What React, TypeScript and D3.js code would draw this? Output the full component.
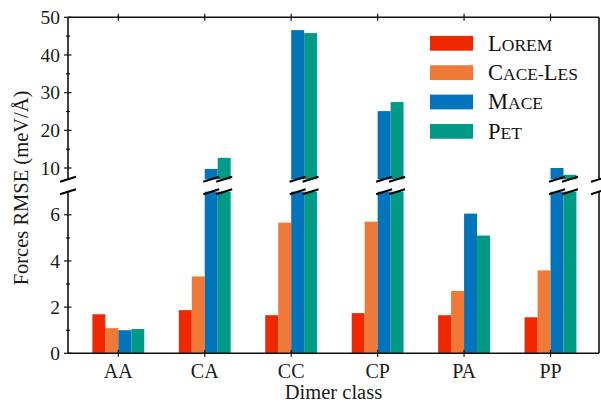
import React from 'react'
import * as d3 from 'd3';

// dimer classes and forces RMSE (meV/Å) per model
const categories = ['AA', 'CA', 'CC', 'CP', 'PA', 'PP'];
const lorem = [1.69, 1.87, 1.65, 1.74, 1.65, 1.56];
const caceLes = [1.09, 3.33, 5.66, 5.70, 2.70, 3.59];
const mace = [1.00, 9.76, 46.6, 25.1, 6.05, 10.0];
const pet = [1.05, 12.7, 45.8, 27.5, 5.10, 8.2];

const topTicks = [10, 20, 30, 40, 50];
const bottomTicks = [0, 2, 4, 6];

const series = [
  { name: [['L', true], ['OREM', false]], values: lorem, color: '#F02800' },
  { name: [['C', true], ['ACE-', false], ['L', true], ['ES', false]], values: caceLes, color: '#EF7A37' },
  { name: [['M', true], ['ACE', false]], values: mace, color: '#0274BC' },
  { name: [['P', true], ['ET', false]], values: pet, color: '#009A86' },
];

const W = 601, H = 404;
const left = 68, right = 599;
const breakVal = 7;
const font = '"Liberation Serif", "Times New Roman", serif';

export default function App() {
  const x = d3.scaleLinear().domain([-0.582, 5.561]).range([left, right]);
  const yTop = d3.scaleLinear().domain([breakVal, 50]).range([179.3, 17.3]);
  const yBot = d3.scaleLinear().domain([0, breakVal]).range([353.3, 191.7]);
  const bw = x(0.15) - x(0);

  const bars = [];
  const breaks = [];
  series.forEach((s, j) => {
    s.values.forEach((v, i) => {
      const x0 = x(i) + (j - 2) * bw;
      const vb = Math.min(v, breakVal);
      bars.push(<rect key={`b${j}-${i}`} x={x0} width={bw} y={yBot(vb)} height={yBot(0) - yBot(vb)} fill={s.color} />);
      if (v > breakVal) {
        bars.push(<rect key={`t${j}-${i}`} x={x0} width={bw} y={yTop(v)} height={yTop(breakVal) - yTop(v)} fill={s.color} />);
        breaks.push(x0 + bw / 2);
      }
    });
  });

  const breakMark = (cx, cy, key) => (
    <line key={key} x1={cx - 8} y1={cy + 2.5} x2={cx + 8} y2={cy - 2.5} stroke="#000" strokeWidth={2} />
  );
  const axisBreaks = [left, right];

  const yMinorTop = d3.range(10, 50, 5).filter(d => d % 10 !== 0);
  const yMinorBot = d3.range(1, 7, 2);

  return (
    <svg width={W} height={H} style={{ position: 'absolute', left: 0, top: 0, background: '#fff' }}>
      <g>{bars}</g>

      {/* spines */}
      <g stroke="#111" strokeWidth={1.6} fill="none">
        <line x1={left} x2={right} y1={yTop(50)} y2={yTop(50)} />
        <line x1={left} x2={left} y1={yTop(50)} y2={yTop(breakVal)} />
        <line x1={right} x2={right} y1={yTop(50)} y2={yTop(breakVal)} />
        <line x1={left} x2={right} y1={yBot(0)} y2={yBot(0)} />
        <line x1={left} x2={left} y1={yBot(breakVal)} y2={yBot(0)} />
        <line x1={right} x2={right} y1={yBot(breakVal)} y2={yBot(0)} />
      </g>

      {/* ticks */}
      <g stroke="#111" strokeWidth={1.2}>
        {topTicks.map(t => <line key={`yt${t}`} x1={left - 4} x2={left + 3.5} y1={yTop(t)} y2={yTop(t)} />)}
        {yMinorTop.map(t => <line key={`ytm${t}`} x1={left - 2} x2={left + 2} y1={yTop(t)} y2={yTop(t)} />)}
        {bottomTicks.map(t => <line key={`yb${t}`} x1={left - 4} x2={left + 3.5} y1={yBot(t)} y2={yBot(t)} />)}
        {yMinorBot.map(t => <line key={`ybm${t}`} x1={left - 2} x2={left + 2} y1={yBot(t)} y2={yBot(t)} />)}
        {categories.map((c, i) => (
          <g key={`xt${c}`}>
            <line x1={x(i)} x2={x(i)} y1={yBot(0) - 3.5} y2={yBot(0) + 3.5} />
            <line x1={x(i)} x2={x(i)} y1={yTop(50) - 3.5} y2={yTop(50) + 3.5} />
          </g>
        ))}
      </g>

      {/* break markers */}
      <g>
        {breaks.map((cx, k) => [breakMark(cx, yTop(breakVal), `bt${k}`), breakMark(cx, yBot(breakVal), `bb${k}`)])}
        {axisBreaks.map((cx, k) => [breakMark(cx, yTop(breakVal), `at${k}`), breakMark(cx, yBot(breakVal), `ab${k}`)])}
      </g>

      {/* tick labels */}
      <g fontFamily={font} fontSize={19.5} fill="#1a1a1a">
        {topTicks.map(t => <text key={`lt${t}`} x={left - 8} y={yTop(t)} dy="0.34em" textAnchor="end">{t}</text>)}
        {bottomTicks.map(t => <text key={`lb${t}`} x={left - 8} y={yBot(t)} dy="0.34em" textAnchor="end">{t}</text>)}
        {categories.map((c, i) => <text key={`lx${c}`} x={x(i)} y={378} textAnchor="middle" fontSize={20}>{c}</text>)}
        <text x={(left + right) / 2} y={399} textAnchor="middle" fontSize={20.5}>Dimer class</text>
        <text transform={`translate(28, 188) rotate(-90)`} textAnchor="middle" fontSize={20.5}>Forces RMSE (meV/Å)</text>
      </g>

      {/* legend */}
      <g fontFamily={font} fill="#111">
        {series.map((s, j) => {
          const cy = 43.3 + j * 29.35;
          return (
            <g key={`lg${j}`}>
              <rect x={430} y={cy - 7.4} width={43} height={14.8} fill={s.color} />
              <text x={488} y={cy + 7.3}>
                {s.name.map(([t, big], k) => <tspan key={k} fontSize={big ? 22.5 : 17.5}>{t}</tspan>)}
              </text>
            </g>
          );
        })}
      </g>
    </svg>
  );
}
